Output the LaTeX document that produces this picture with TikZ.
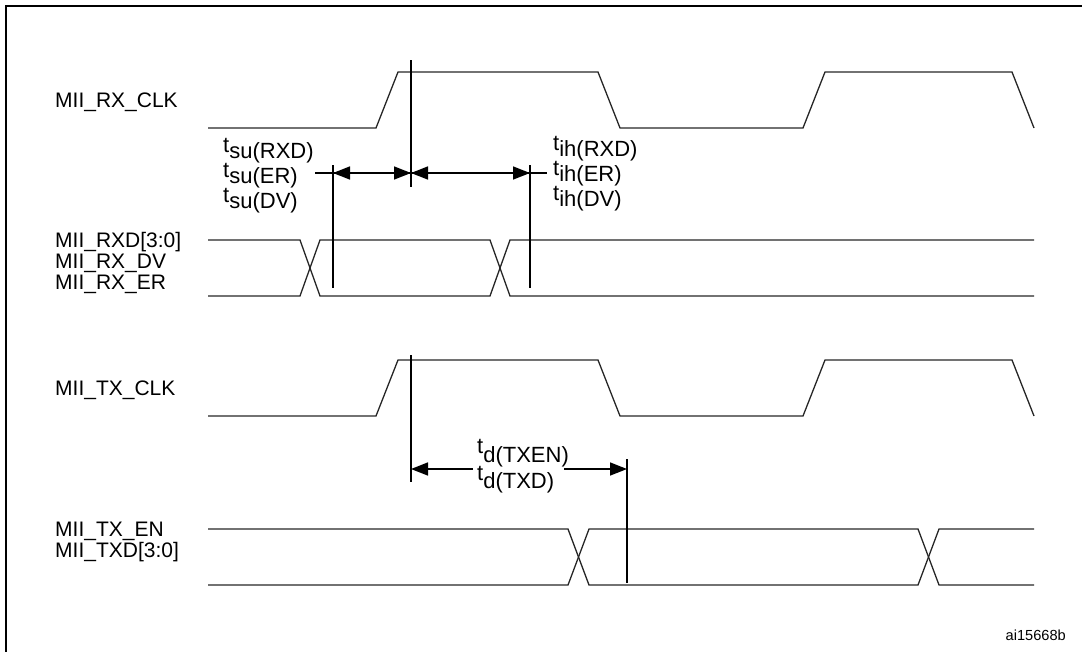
\documentclass[tikz,border=0pt]{standalone}
\usepackage{fontspec}
\setmainfont{Liberation Sans}
\usetikzlibrary{arrows.meta,positioning}

% t with a lowered index, e.g. t_su(RXD)
\newcommand{\tlab}[3]{t\raisebox{-#3pt}{#1(#2)}}

\tikzset{
  sig/.style={line width=1.3pt, black!85},
  edgeline/.style={line width=2pt},
  dimline/.style={line width=1.6pt},
  tip/.style={-{Triangle[length=17pt,width=13pt]}},
  lab/.style={anchor=base west, inner sep=0pt, font=\fontsize{21}{24}\selectfont},
  tname/.style={anchor=base west, inner sep=0pt, font=\fontsize{22}{24}\selectfont},
}

\begin{document}
\begin{tikzpicture}[x=1pt, y=-1pt]
    \useasboundingbox (0,0) rectangle (1082,651);
    \clip (0,0) rectangle (1082,651);
    % frame
    \draw[line width=2.5pt] (6,700) |- (1100,6);

    % signal names
    \node[lab] (rxclk) at (55,107) {MII\_RX\_CLK};
    \node[lab] (rxd) at (55,247) {MII\_RXD[3:0]};
    \node[lab] (rxdv) at (55,268) {MII\_RX\_DV};
    \node[lab] (rxer) at (55,289) {MII\_RX\_ER};
    \node[lab] (txclk) at (55,395) {MII\_TX\_CLK};
    \node[lab] (txen) at (55,536) {MII\_TX\_EN};
    \node[lab] (txd) at (55,557) {MII\_TXD[3:0]};

    % receive clock
    \draw[sig] (208,128) -- (376,128) -- (398,72) -- (598,72) -- (620,128) -- (803,128) -- (825,72) -- (1012,72) -- (1034,128);
    % receive data
    \draw[sig] (208,240) -- (300,240) -- (320,296) -- (490,296) -- (510,240) -- (1034,240);
    \draw[sig] (208,296) -- (300,296) -- (320,240) -- (490,240) -- (510,296) -- (1034,296);

    % transmit clock
    \draw[sig] (208,416) -- (376,416) -- (398,360) -- (598,360) -- (620,416) -- (803,416) -- (825,360) -- (1012,360) -- (1034,416);
    % transmit data
    \draw[sig] (208,529) -- (568,529) -- (589,585) -- (918,585) -- (939,529) -- (1034,529);
    \draw[sig] (208,585) -- (568,585) -- (589,529) -- (918,529) -- (939,585) -- (1034,585);

    % setup / hold
    \coordinate (suL) at (333,173);
    \coordinate (rxedge) at (411,173);
    \coordinate (ihR) at (530,173);
    \draw[edgeline] (411,60) -- (411,187);
    \draw[edgeline] (333,165) -- (333,288);
    \draw[edgeline] (530,165) -- (530,288);
    \draw[dimline] (315,173) -- (547,173);
    \draw[dimline, tip] (372,173) -- (suL);
    \draw[dimline, tip] (372,173) -- (rxedge);
    \draw[dimline, tip] (470,173) -- (rxedge);
    \draw[dimline, tip] (470,173) -- (ihR);

    \node[tname] (su1) at (223,152) {\tlab{su}{RXD}{6}};
    \node[tname] (su2) at (223,177) {\tlab{su}{ER}{6}};
    \node[tname] (su3) at (223,202) {\tlab{su}{DV}{6}};
    \node[tname] (ih1) at (553,150) {\tlab{ih}{RXD}{6}};
    \node[tname] (ih2) at (553,175) {\tlab{ih}{ER}{6}};
    \node[tname] (ih3) at (553,200) {\tlab{ih}{DV}{6}};

    % output delay
    \coordinate (txedge) at (411,469);
    \coordinate (tdR) at (627,469);
    \draw[edgeline] (411,355) -- (411,482);
    \draw[edgeline] (627,459) -- (627,583);
    \draw[dimline, tip] (473,469) -- (txedge);
    \draw[dimline, tip] (564,469) -- (tdR);

    \node[tname] (td1) at (477,453) {\tlab{d}{TXEN}{9}};
    \node[tname] (td2) at (477,480) {\tlab{d}{TXD}{8}};

    \node[anchor=base east, inner sep=0pt, font=\fontsize{14.6}{17}\selectfont] (docid) at (1066,640) {ai15668b};
\end{tikzpicture}
\end{document}
